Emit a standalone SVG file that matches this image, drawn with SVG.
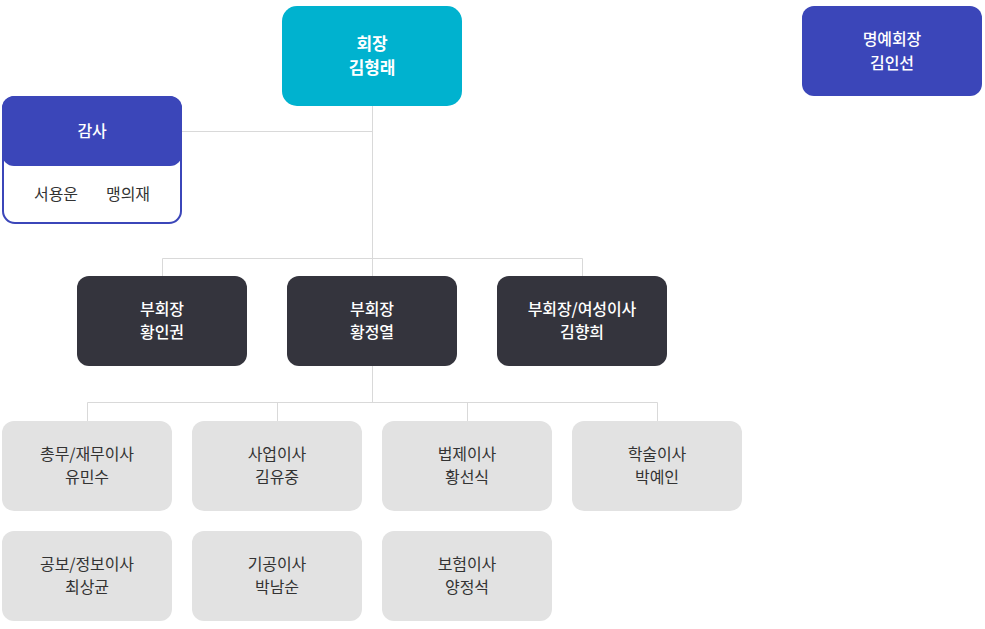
<svg xmlns="http://www.w3.org/2000/svg" width="985" height="629" viewBox="0 0 985 629">
<style>
text{font-family:"Noto Sans CJK KR","Noto Sans",sans-serif;font-size:16px;text-anchor:middle;letter-spacing:-0.1px}
.w{fill:#fff;font-weight:500}
.b{font-weight:700;font-size:17px}
.d{fill:#333;font-weight:400}
.top{fill:#00b2cf}
.blue{fill:#3b46b9}
.dark{fill:#34343d}
.gray{fill:#e2e2e2}
#connectors line{stroke:#d9d9d9;stroke-width:1}
</style>
<rect width="985" height="629" fill="#fff"/>
<g id="connectors">
<line x1="372.5" y1="105" x2="372.5" y2="276"/>
<line x1="182" y1="131.5" x2="372.5" y2="131.5"/>
<line x1="162.5" y1="258.5" x2="582.5" y2="258.5"/>
<line x1="162.5" y1="258.5" x2="162.5" y2="276"/>
<line x1="582.5" y1="258.5" x2="582.5" y2="276"/>
<line x1="372.5" y1="366" x2="372.5" y2="402.5"/>
<line x1="87.5" y1="402.5" x2="657.5" y2="402.5"/>
<line x1="87.5" y1="402.5" x2="87.5" y2="421"/>
<line x1="277.5" y1="402.5" x2="277.5" y2="421"/>
<line x1="467.5" y1="402.5" x2="467.5" y2="421"/>
<line x1="657.5" y1="402.5" x2="657.5" y2="421"/>
</g>
<g id="chairman">
<rect class="top" x="282" y="6" width="180" height="100" rx="15"/>
<text class="w b" x="372" y="50">회장</text>
<text class="w b" x="372" y="74">김형래</text>
</g>
<g id="honorary">
<rect class="blue" x="802" y="6" width="180" height="90" rx="12"/>
<text class="w" x="892" y="45">명예회장</text>
<text class="w" x="892" y="69">김인선</text>
</g>
<g id="auditor">
<rect x="3" y="97" width="178" height="126" rx="12" fill="#fff" stroke="#3b46b9" stroke-width="2"/>
<rect class="blue" x="2" y="96" width="180" height="70" rx="12"/>
<text class="w" x="92" y="137">감사</text>
<text class="d" x="56" y="200">서용운</text>
<text class="d" x="128" y="200">맹의재</text>
</g>
<g id="vp1">
<rect class="dark" x="77" y="276" width="170" height="90" rx="12"/>
<text class="w" x="162" y="315">부회장</text>
<text class="w" x="162" y="338">황인권</text>
</g>
<g id="vp2">
<rect class="dark" x="287" y="276" width="170" height="90" rx="12"/>
<text class="w" x="372" y="315">부회장</text>
<text class="w" x="372" y="338">황정열</text>
</g>
<g id="vp3">
<rect class="dark" x="497" y="276" width="170" height="90" rx="12"/>
<text class="w" x="582" y="315">부회장/여성이사</text>
<text class="w" x="582" y="338">김향희</text>
</g>
<g id="d1">
<rect class="gray" x="2" y="421" width="170" height="90" rx="12"/>
<text class="d" x="87" y="460">총무/재무이사</text>
<text class="d" x="87" y="483">유민수</text>
</g>
<g id="d2">
<rect class="gray" x="192" y="421" width="170" height="90" rx="12"/>
<text class="d" x="277" y="460">사업이사</text>
<text class="d" x="277" y="483">김유중</text>
</g>
<g id="d3">
<rect class="gray" x="382" y="421" width="170" height="90" rx="12"/>
<text class="d" x="467" y="460">법제이사</text>
<text class="d" x="467" y="483">황선식</text>
</g>
<g id="d4">
<rect class="gray" x="572" y="421" width="170" height="90" rx="12"/>
<text class="d" x="657" y="460">학술이사</text>
<text class="d" x="657" y="483">박예인</text>
</g>
<g id="d5">
<rect class="gray" x="2" y="531" width="170" height="90" rx="12"/>
<text class="d" x="87" y="570">공보/정보이사</text>
<text class="d" x="87" y="593">최상균</text>
</g>
<g id="d6">
<rect class="gray" x="192" y="531" width="170" height="90" rx="12"/>
<text class="d" x="277" y="570">기공이사</text>
<text class="d" x="277" y="593">박남순</text>
</g>
<g id="d7">
<rect class="gray" x="382" y="531" width="170" height="90" rx="12"/>
<text class="d" x="467" y="570">보험이사</text>
<text class="d" x="467" y="593">양정석</text>
</g>
</svg>
